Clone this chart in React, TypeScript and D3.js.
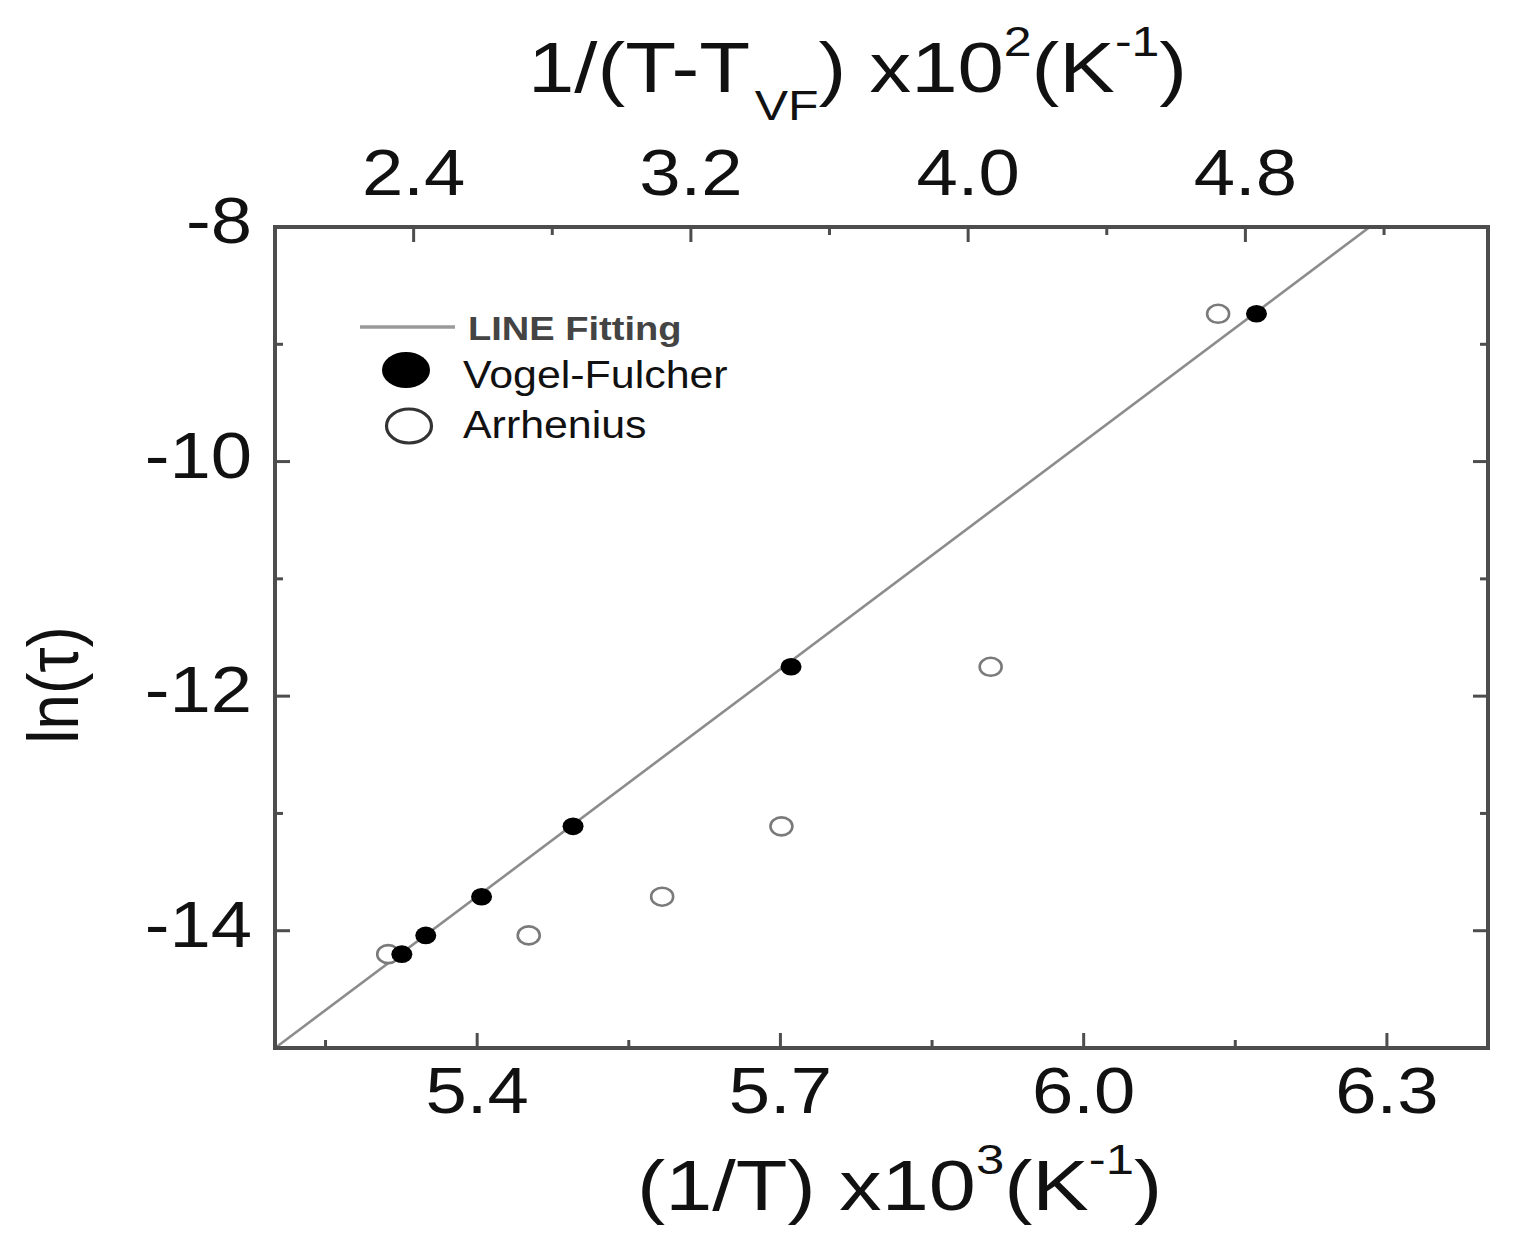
import React from "react";
import * as d3 from "d3";

// ---- data ----
// Vogel-Fulcher points: x on top axis 1/(T-TVF) x10^2
const vfX = [2.366, 2.435, 2.596, 2.86, 3.489, 4.832];
const vfY = [-14.2, -14.04, -13.71, -13.11, -11.75, -8.74];
// Arrhenius points: x on bottom axis (1/T) x10^3
const arX = [5.312, 5.451, 5.583, 5.701, 5.908, 6.133];
const arY = [-14.2, -14.04, -13.71, -13.11, -11.75, -8.74];
// LINE Fitting (bottom-axis units)
const fitX = [5.2, 6.283];
const fitY = [-15, -8];

const bottomMajor = [5.4, 5.7, 6.0, 6.3];
const bottomMinor = [5.25, 5.55, 5.85, 6.15];
const topMajor = [2.4, 3.2, 4.0, 4.8];
const topMinor = [2.8, 3.6, 4.4, 5.2];
const yMajor = [-8, -10, -12, -14];
const yMinor = [-9, -11, -13];

const legendLabels = ["LINE Fitting", "Vogel-Fulcher", "Arrhenius"];

// title pieces: [text, role] role: n = normal, sub, sup
const topTitle: [string, string][] = [["1/(T-T", "n"], ["VF", "sub"], [") x10", "n"], ["2", "sup"], ["(K", "n"], ["-1", "sup"], [")", "n"]];
const bottomTitle: [string, string][] = [["(1/T) x10", "n"], ["3", "sup"], ["(K", "n"], ["-1", "sup"], [")", "n"]];

const FONT = "'Liberation Sans', Arial, Helvetica, sans-serif";
const SX = 1.16;

// Arial / Liberation Sans advance widths (em)
const W: Record<string, number> = {
  "1": 0.556, "2": 0.556, "3": 0.556, "0": 0.556, "/": 0.278, "(": 0.333, ")": 0.333,
  T: 0.611, "-": 0.333, V: 0.667, F: 0.611, " ": 0.278, x: 0.5, K: 0.667,
};
const textW = (s: string, fs: number) => s.split("").reduce((a, c) => a + (W[c] ?? 0.556) * fs, 0);

function Title({ parts, x, y, fs, sfs, sx }: { parts: [string, string][]; x: number; y: number; fs: number; sfs: number; sx: number }) {
  let cx = x;
  return (
    <g fontFamily={FONT} fill="#111">
      {parts.map(([t, role], i) => {
        const size = role === "n" ? fs : sfs;
        const yy = role === "sub" ? y + 28 : role === "sup" ? y - 36 : y;
        const px = cx;
        cx += textW(t, size) * sx;
        return (
          <text key={i} transform={`translate(${px},${yy}) scale(${sx},1)`} fontSize={size} style={{ whiteSpace: "pre" }}>
            {t}
          </text>
        );
      })}
    </g>
  );
}

export default function App() {
  const L = 275, R = 1488, T = 227, B = 1048;
  const xB = d3.scaleLinear().domain([5.2, 6.4]).range([L, R]);
  const xT = d3.scaleLinear().domain([2.0, 5.5]).range([L, R]);
  const y = d3.scaleLinear().domain([-15, -8]).range([B, T]);
  const fitLine = d3.line<number>().x((d, i) => xB(fitX[i])).y((d, i) => y(fitY[i]));
  const axisColor = "#4d4d4d";
  const MAJ = 15, MIN = 8;

  const fmt1 = d3.format(".1f");

  return (
    <svg width={1524} height={1254} style={{ display: "block", position: "absolute", left: 0, top: 0 }}>
      <rect width={1524} height={1254} fill="#fff" />
      <defs>
        <clipPath id="plot">
          <rect x={L} y={T} width={R - L} height={B - T} />
        </clipPath>
      </defs>

      {/* fit line */}
      <path d={fitLine(fitX) || ""} stroke="#8c8c8c" strokeWidth={2.6} fill="none" clipPath="url(#plot)" />

      {/* Arrhenius hollow */}
      {arX.map((v, i) => (
        <ellipse key={"a" + i} cx={xB(v)} cy={y(arY[i])} rx={11} ry={9} fill="#fff" stroke="#7a7a7a" strokeWidth={2.6} />
      ))}
      {/* Vogel-Fulcher filled */}
      {vfX.map((v, i) => (
        <ellipse key={"v" + i} cx={xT(v)} cy={y(vfY[i])} rx={10.5} ry={8.8} fill="#000" />
      ))}

      {/* ticks */}
      <g stroke={axisColor} strokeWidth={3}>
        {bottomMajor.map((v) => <line key={"bM" + v} x1={xB(v)} x2={xB(v)} y1={B} y2={B - MAJ} />)}
        {bottomMinor.map((v) => <line key={"bm" + v} x1={xB(v)} x2={xB(v)} y1={B} y2={B - MIN} />)}
        {topMajor.map((v) => <line key={"tM" + v} x1={xT(v)} x2={xT(v)} y1={T} y2={T + MAJ} />)}
        {topMinor.map((v) => <line key={"tm" + v} x1={xT(v)} x2={xT(v)} y1={T} y2={T + MIN} />)}
        {yMajor.map((v) => <line key={"lM" + v} x1={L} x2={L + MAJ} y1={y(v)} y2={y(v)} />)}
        {yMinor.map((v) => <line key={"lm" + v} x1={L} x2={L + MIN} y1={y(v)} y2={y(v)} />)}
        {yMajor.map((v) => <line key={"rM" + v} x1={R} x2={R - MAJ} y1={y(v)} y2={y(v)} />)}
        {yMinor.map((v) => <line key={"rm" + v} x1={R} x2={R - MIN} y1={y(v)} y2={y(v)} />)}
      </g>
      {/* frame */}
      <rect x={L} y={T} width={R - L} height={B - T} fill="none" stroke={axisColor} strokeWidth={4} />

      {/* tick labels */}
      <g fontFamily={FONT} fontSize={64} fill="#111">
        {bottomMajor.map((v) => (
          <text key={"bl" + v} transform={`translate(${xB(v)},${1113}) scale(${SX},1)`} textAnchor="middle">{fmt1(v)}</text>
        ))}
        {topMajor.map((v) => (
          <text key={"tl" + v} transform={`translate(${xT(v)},${195}) scale(${SX},1)`} textAnchor="middle">{fmt1(v)}</text>
        ))}
        {yMajor.map((v) => (
          <text key={"yl" + v} transform={`translate(${252},${y(v) + 16}) scale(${SX},1)`} textAnchor="end">{v}</text>
        ))}
      </g>

      {/* axis titles */}
      <Title parts={topTitle} x={528} y={92} fs={70} sfs={42} sx={1.19} />
      <Title parts={bottomTitle} x={637} y={1210} fs={70} sfs={42} sx={1.21} />
      <text transform={`translate(78,${685}) rotate(-90) scale(1,1.12)`} textAnchor="middle" fontFamily={FONT} fontSize={64} fill="#111">
        ln(τ)
      </text>

      {/* legend */}
      <line x1={360} x2={455} y1={327} y2={327} stroke="#9a9a9a" strokeWidth={3.5} />
      <text transform="translate(468,340) scale(1.12,1)" fontFamily={FONT} fontSize={34} fontWeight="bold" fill="#444">{legendLabels[0]}</text>
      <ellipse cx={406} cy={370} rx={24} ry={18} fill="#000" />
      <text transform="translate(463,388) scale(1.1,1)" fontFamily={FONT} fontSize={39} fill="#111">{legendLabels[1]}</text>
      <ellipse cx={409} cy={426} rx={22.5} ry={17} fill="#fff" stroke="#333" strokeWidth={3.2} />
      <text transform="translate(463,438) scale(1.1,1)" fontFamily={FONT} fontSize={39} fill="#111">{legendLabels[2]}</text>
    </svg>
  );
}
